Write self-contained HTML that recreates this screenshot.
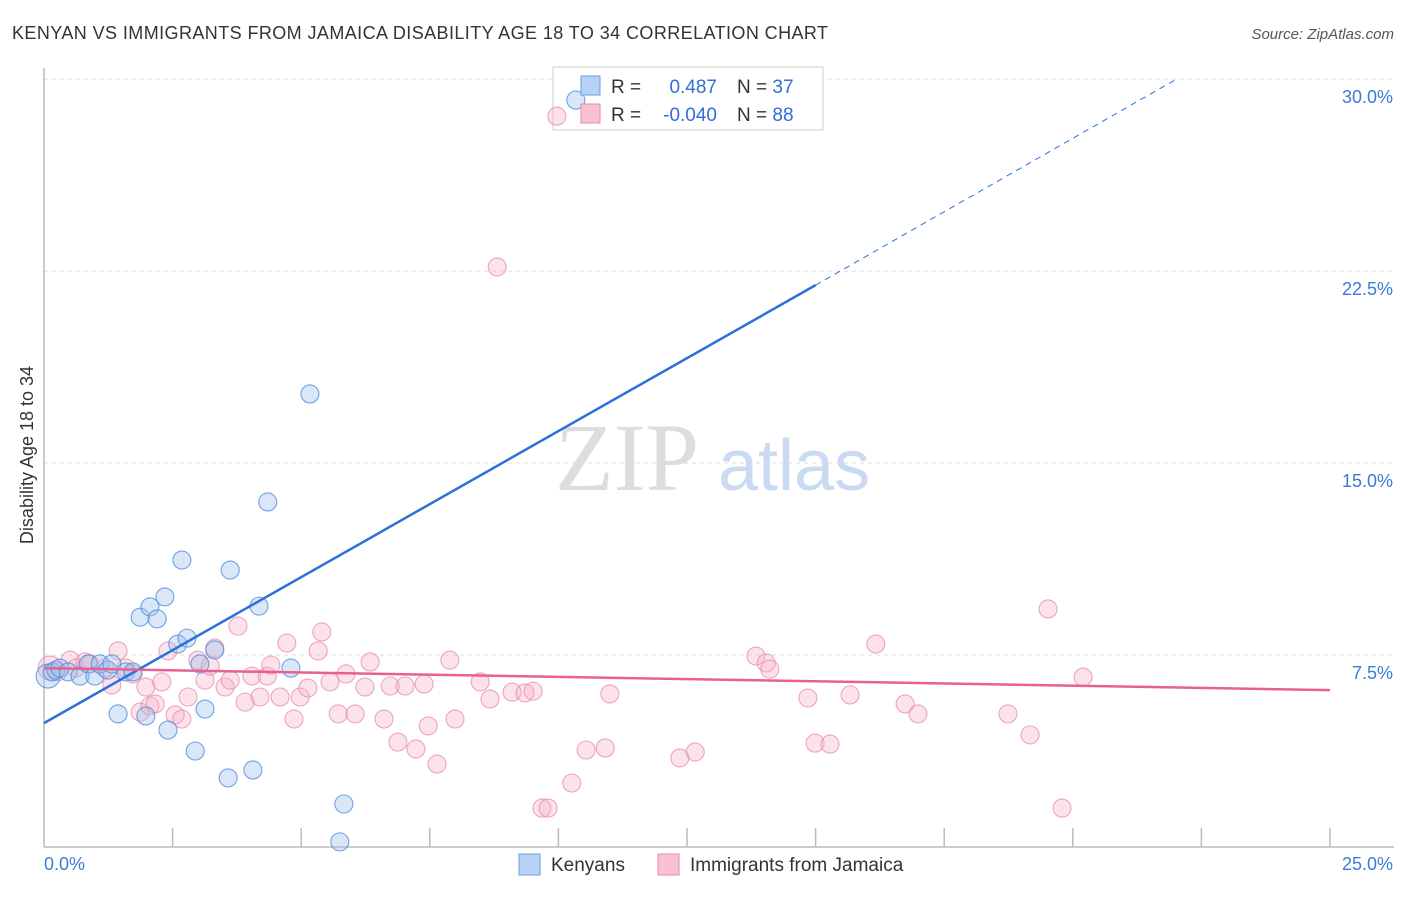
<!DOCTYPE html>
<html><head><meta charset="utf-8"><style>
body{margin:0;background:#fff;font-family:"Liberation Sans",sans-serif}
</style></head><body>
<svg id="chart" width="1406" height="892" xmlns="http://www.w3.org/2000/svg">
<text x="12" y="39" font-size="18" fill="#333" textLength="816">KENYAN VS IMMIGRANTS FROM JAMAICA DISABILITY AGE 18 TO 34 CORRELATION CHART</text>
<text x="1394" y="39" font-size="15" fill="#555" font-style="italic" text-anchor="end">Source: ZipAtlas.com</text>
<text x="555" y="490" font-size="96" fill="#ddd" font-family="Liberation Serif,serif">ZIP</text>
<text x="718" y="490" font-size="72" fill="#c9daf2">atlas</text>
<text transform="translate(33,455) rotate(-90)" font-size="18" fill="#333" text-anchor="middle">Disability Age 18 to 34</text>
<g id="grid"></g><g id="axes"></g>
<g>
<rect x="553" y="67" width="270" height="63" fill="#fff" stroke="#ccc"/>
</g>
<g id="pts"></g><g id="lines"></g>
<g>
<rect x="581" y="76" width="19" height="19" fill="#b7d2f5" stroke="#6b9be0"/>
<rect x="581" y="104" width="19" height="19" fill="#f9c2d2" stroke="#e88aa8"/>
<text x="611" y="93" font-size="19" fill="#333">R =</text>
<text x="717" y="93" font-size="19" fill="#2f6fd6" text-anchor="end">0.487</text>
<text x="737" y="93" font-size="19" fill="#333">N = <tspan fill="#2f6fd6">37</tspan></text>
<text x="611" y="121" font-size="19" fill="#333">R =</text>
<text x="717" y="121" font-size="19" fill="#2f6fd6" text-anchor="end">-0.040</text>
<text x="737" y="121" font-size="19" fill="#333">N = <tspan fill="#2f6fd6">88</tspan></text>
</g>
<g>
<rect x="519" y="854" width="21" height="21" fill="#b7d2f5" stroke="#6b9be0"/>
<text x="551" y="871" font-size="19" fill="#333">Kenyans</text>
<rect x="658" y="854" width="21" height="21" fill="#f9c2d2" stroke="#e88aa8"/>
<text x="690" y="871" font-size="19" fill="#333">Immigrants from Jamaica</text>
</g>
</svg>
<script>
const yTicks=[7.5,15,22.5,30];
const yTickLabels=["7.5%","15.0%","22.5%","30.0%"];
const xTickCount=10;
const xLabels=["0.0%","25.0%"];
const kenyanX=[0.08,0.16,0.23,0.31,0.47,0.70,0.86,0.99,1.09,1.24,1.32,1.44,1.59,1.73,1.87,1.98,2.06,2.20,2.35,2.41,2.60,2.68,2.78,2.94,3.03,3.13,3.32,3.58,3.62,4.06,4.18,4.35,4.80,5.17,5.83,5.75,10.34];
const kenyanY=[6.68,6.84,6.91,6.99,6.84,6.68,7.15,6.68,7.15,6.91,7.15,5.20,6.84,6.84,8.98,5.12,9.38,8.91,9.77,4.57,7.93,11.21,8.16,3.75,7.15,5.39,7.70,2.70,10.82,3.01,9.41,13.48,6.99,17.70,1.68,0.20,29.18];
const jamX=[0.12,0.27,0.51,0.62,0.80,0.89,1.18,1.32,1.44,1.59,1.73,1.87,1.98,2.06,2.16,2.29,2.41,2.55,2.68,2.80,2.99,3.13,3.23,3.32,3.52,3.62,3.77,3.91,4.04,4.20,4.34,4.41,4.59,4.72,4.86,4.98,5.13,5.33,5.40,5.56,5.72,5.87,6.05,6.24,6.34,6.61,6.73,6.88,7.02,7.23,7.39,7.47,7.64,7.89,7.99,8.48,8.67,8.81,9.10,9.35,9.51,9.68,9.80,9.97,10.26,10.54,10.91,11.00,12.36,12.66,13.84,14.04,14.11,14.85,14.99,15.28,15.67,16.17,16.74,16.99,18.74,19.17,19.52,19.79,20.20];
const jamY=[6.99,6.84,7.30,6.99,7.23,7.15,6.99,6.33,7.66,6.99,6.76,5.27,6.25,5.51,5.59,6.45,7.66,5.16,5.00,5.86,7.30,6.52,7.07,7.77,6.25,6.52,8.63,5.66,6.68,5.86,6.68,7.11,5.86,7.97,5.00,5.86,6.21,7.66,8.40,6.45,5.20,6.76,5.20,6.25,7.23,5.00,6.29,4.10,6.29,3.83,6.37,4.73,3.24,7.30,5.00,6.45,5.78,22.66,6.05,6.02,6.09,1.52,1.52,28.55,2.50,3.79,3.87,5.98,3.48,3.71,7.46,7.19,6.95,5.82,4.06,4.02,5.94,7.93,5.59,5.20,5.20,4.38,9.30,1.52,6.64];
const kenyanTrend=[4.84,21.95,29.98];
const kenyanTrendX=[0,15,22];
const jamTrend=[6.99,6.13];
const NS="http://www.w3.org/2000/svg";
const X0=44,X1=1330,Y0=847,YMAX=33.09;
const sx=v=>X0+v/25*(X1-X0);
const sy=v=>Y0-v/YMAX*(Y0-0);
function mk(tag,attrs,parent){const e=document.createElementNS(NS,tag);for(const k in attrs)e.setAttribute(k,attrs[k]);document.getElementById(parent).appendChild(e);return e;}
yTicks.forEach((t,i)=>{
 const l=mk('line',{x1:X0,x2:1394,y1:sy(t),y2:sy(t),stroke:'#ddd','stroke-dasharray':'4,4'},'grid');
 
 
 const tx=mk('text',{x:1393,y:sy(t)+24,'font-size':18,fill:'#3d7ad8','text-anchor':'end'},'grid');
 tx.textContent=yTickLabels[i];
 
 
});
const ax=mk('line',{x1:X0,x2:X0,y1:68,y2:Y0,stroke:'#bbb','stroke-width':1.5},'axes');


const bx=mk('line',{x1:X0,x2:1394,y1:Y0,y2:Y0,stroke:'#bbb','stroke-width':1.5},'axes');


for(let i=1;i<=xTickCount;i++){const v=25*i/xTickCount;const t=mk('line',{x1:sx(v),x2:sx(v),y1:828,y2:Y0,stroke:'#bbb','stroke-width':1.5},'axes');
 
 }
[[0,'start',xLabels[0]],[25,'end',xLabels[1]]].forEach(([v,a,s],i)=>{const t=mk('text',{x:i?1393:X0,y:870,'font-size':18,fill:'#3d7ad8','text-anchor':a},'axes');t.textContent=s;
 
 });
jamX.forEach((x,i)=>{const c=mk('circle',{cx:sx(x),cy:sy(jamY[i]),r:i==0?12:9,fill:'rgba(246,176,198,0.35)',stroke:'rgba(232,138,170,0.75)','stroke-width':1.1},'pts');
 
 });
kenyanX.forEach((x,i)=>{const c=mk('circle',{cx:sx(x),cy:sy(kenyanY[i]),r:i==0?12:9,fill:'rgba(160,196,240,0.4)',stroke:'rgba(80,140,220,0.8)','stroke-width':1.1},'pts');
 
 });
const kl=mk('line',{x1:sx(kenyanTrendX[0]),y1:sy(kenyanTrend[0]),x2:sx(kenyanTrendX[1]),y2:sy(kenyanTrend[1]),stroke:'#2a72d8','stroke-width':2.5},'lines');


const kd=mk('line',{x1:sx(kenyanTrendX[1]),y1:sy(kenyanTrend[1]),x2:sx(kenyanTrendX[2]),y2:sy(kenyanTrend[2]),stroke:'#2a72d8','stroke-width':1,'stroke-dasharray':'6,5'},'lines');


const jl=mk('line',{x1:sx(0),y1:sy(jamTrend[0]),x2:sx(25),y2:sy(jamTrend[1]),stroke:'#e8618e','stroke-width':2.5},'lines');


</script>
</body></html>
